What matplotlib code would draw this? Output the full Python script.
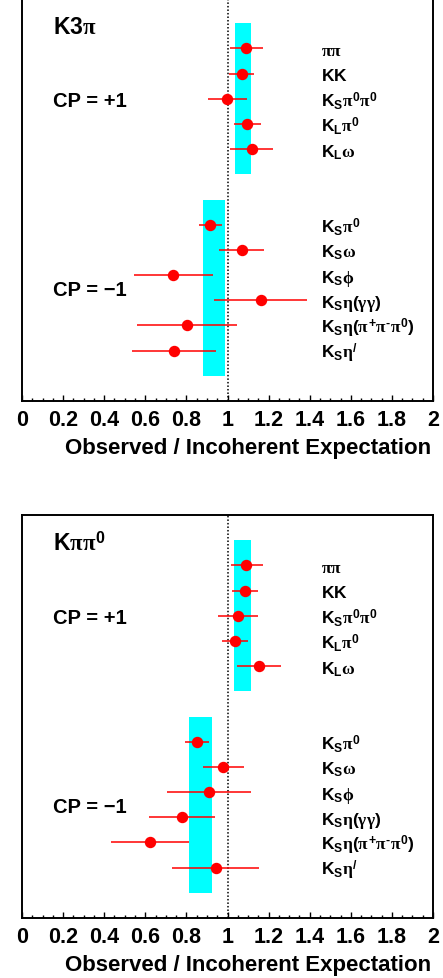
import matplotlib
matplotlib.use('Agg')
import matplotlib.pyplot as plt
from matplotlib.ticker import MultipleLocator

plt.rcParams['mathtext.fontset'] = 'custom'
plt.rcParams['mathtext.rm'] = 'Liberation Sans:bold'
plt.rcParams['mathtext.bf'] = 'Liberation Sans:bold'
plt.rcParams['mathtext.sf'] = 'Liberation Sans:bold'
plt.rcParams['mathtext.it'] = 'Liberation Serif'
plt.rcParams['font.family'] = ['Liberation Sans', 'DejaVu Sans']
plt.rcParams['font.weight'] = 'bold'

# ---- data ----
labels_even = [r'$\pi\pi$', r'$\mathrm{KK}$', r'$\mathrm{K_S}\pi^0\pi^0$',
               r'$\mathrm{K_L}\pi^0$', r'$\mathrm{K_L}\omega$']
labels_odd = [r'$\mathrm{K_S}\pi^0$', r'$\mathrm{K_S}\omega$', r'$\mathrm{K_S}\phi$',
              r'$\mathrm{K_S}\eta(\gamma\gamma)$', r'$\mathrm{K_S}\eta(\pi^{+}\pi^{\text{-}}\pi^0)$',
              r'$\mathrm{K_S}\eta^{/}$']
rows_even = [0, 1, 2, 3, 4]
rows_odd = [7, 8, 9, 10, 11, 12]

panel_titles = [r'$\mathrm{K3}\pi$', r'$\mathrm{K}\pi\pi^0$']

# K3pi panel
k3pi_even_val = [1.090, 1.069, 0.998, 1.095, 1.118]
k3pi_even_lo = [1.012, 1.009, 0.903, 1.033, 1.012]
k3pi_even_hi = [1.173, 1.129, 1.093, 1.161, 1.221]
k3pi_odd_val = [0.916, 1.069, 0.736, 1.163, 0.805, 0.738]
k3pi_odd_lo = [0.860, 0.959, 0.547, 0.936, 0.560, 0.537]
k3pi_odd_hi = [0.975, 1.179, 0.928, 1.389, 1.045, 0.944]
k3pi_band_even = [1.036, 1.114]
k3pi_band_odd = [0.881, 0.988]

# Kpipi0 panel
kpp_even_val = [1.092, 1.085, 1.051, 1.036, 1.153]
kpp_even_lo = [1.015, 1.023, 0.955, 0.973, 1.048]
kpp_even_hi = [1.173, 1.150, 1.147, 1.100, 1.259]
kpp_odd_val = [0.852, 0.978, 0.912, 0.779, 0.623, 0.944]
kpp_odd_lo = [0.793, 0.882, 0.707, 0.618, 0.432, 0.730]
kpp_odd_hi = [0.912, 1.079, 1.116, 0.939, 0.814, 1.153]
kpp_band_even = [1.033, 1.113]
kpp_band_odd = [0.813, 0.923]

xticks = [0, 0.2, 0.4, 0.6, 0.8, 1.0, 1.2, 1.4, 1.6, 1.8, 2.0]
xtick_labels = ['0', '0.2', '0.4', '0.6', '0.8', '1', '1.2', '1.4', '1.6', '1.8', '2']
xlabel = 'Observed / Incoherent Expectation'

panels = [
    dict(title=panel_titles[0],
         ev=(k3pi_even_val, k3pi_even_lo, k3pi_even_hi),
         od=(k3pi_odd_val, k3pi_odd_lo, k3pi_odd_hi),
         bands=(k3pi_band_even, k3pi_band_odd)),
    dict(title=panel_titles[1],
         ev=(kpp_even_val, kpp_even_lo, kpp_even_hi),
         od=(kpp_odd_val, kpp_odd_lo, kpp_odd_hi),
         bands=(kpp_band_even, kpp_band_odd)),
]

W, H = 443, 979
fig = plt.figure(figsize=(W / 100, H / 100), dpi=100)
ax_left = 22 / W
ax_w = 411 / W
ax_h = 403 / H
bottoms = [(H - 402) / H, (H - 919) / H]

for p, b in zip(panels, bottoms):
    ax = fig.add_axes([ax_left, b, ax_w, ax_h])
    ax.set_xlim(0, 2)
    ax.set_ylim(14, -2)

    # bands
    be, bo = p['bands']
    ax.fill_betweenx([-1, 5], be[0], be[1], color='#00ffff', lw=0, zorder=1)
    ax.fill_betweenx([6, 13], bo[0], bo[1], color='#00ffff', lw=0, zorder=1)

    ax.axvline(1.0, color='black', ls=(0, (1, 1.3)), lw=1.1, zorder=2)

    for (val, lo, hi), rows in ((p['ev'], rows_even), (p['od'], rows_odd)):
        xerr = [[v - l for v, l in zip(val, lo)], [h - v for v, h in zip(val, hi)]]
        ax.errorbar(val, rows, xerr=xerr, fmt='o', color='#ff0000', ms=7.2,
                    elinewidth=1.1, capsize=0, zorder=3)

    for lab, r in zip(labels_even, rows_even):
        ax.text(1.455, r + 0.27, lab, fontsize=12.5, va='baseline', ha='left')
    for lab, r in zip(labels_odd, rows_odd):
        ax.text(1.455, r + 0.27, lab, fontsize=12.5, va='baseline', ha='left')

    ax.text(0.15, -0.62, p['title'], fontsize=16.5, va='baseline', ha='left')
    ax.text(0.15, 2.3, 'CP = +1', fontsize=14.5, fontweight='bold', va='baseline', ha='left')
    ax.text(0.15, 9.8, 'CP = \u22121', fontsize=14.5, fontweight='bold', va='baseline', ha='left')

    ax.set_yticks([])
    ax.set_xticks(xticks)
    ax.set_xticklabels(xtick_labels, fontsize=15.5, fontweight='bold')
    ax.xaxis.set_minor_locator(MultipleLocator(0.05))
    ax.tick_params(axis='x', which='major', direction='in', length=4.2, width=1.0, pad=5.5)
    ax.tick_params(axis='x', which='minor', direction='in', length=2.4, width=1.0)
    for s in ax.spines.values():
        s.set_linewidth(1.4)

    ax.annotate(xlabel, xy=(1, 0), xycoords='axes fraction', xytext=(-1, -47 * 0.72),
                textcoords='offset points', ha='right', va='center', fontsize=16,
                fontweight='bold')

fig.savefig('out.png', dpi=100)
